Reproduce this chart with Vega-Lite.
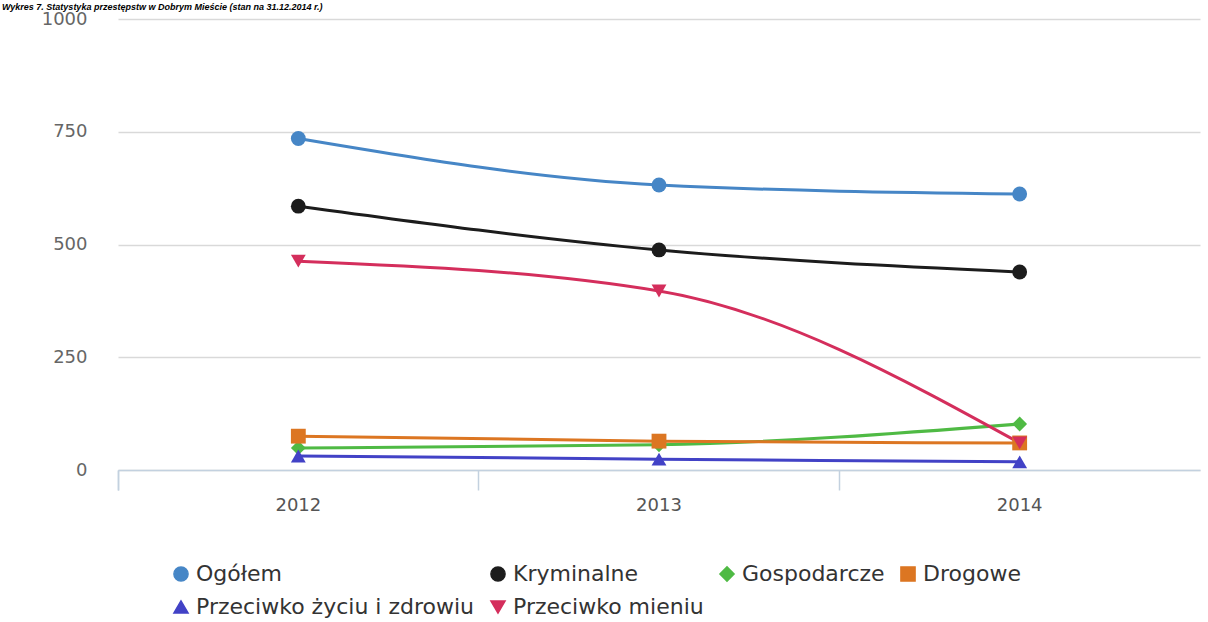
{
  "$schema": "https://vega.github.io/schema/vega-lite/v6.json",
  "autosize": "none",
  "padding": {"left": 118, "top": 19, "right": 8, "bottom": 152},
  "width": 1082,
  "height": 451,
  "background": "white",
  "title": {
    "text": "Wykres 7. Statystyka przestępstw w Dobrym Mieście (stan na 31.12.2014 r.)",
    "anchor": "start",
    "frame": "group",
    "dx": -116,
    "dy": 13,
    "offset": 4,
    "baseline": "alphabetic",
    "font": "Liberation Sans",
    "fontSize": 9,
    "fontStyle": "italic",
    "fontWeight": "bold",
    "color": "#000"
  },
  "data": {
    "values": [
      {"rok": "2012", "kategoria": "Ogółem", "liczba": 735},
      {"rok": "2013", "kategoria": "Ogółem", "liczba": 632},
      {"rok": "2014", "kategoria": "Ogółem", "liczba": 612},
      {"rok": "2012", "kategoria": "Kryminalne", "liczba": 585},
      {"rok": "2013", "kategoria": "Kryminalne", "liczba": 488},
      {"rok": "2014", "kategoria": "Kryminalne", "liczba": 439},
      {"rok": "2012", "kategoria": "Gospodarcze", "liczba": 49},
      {"rok": "2013", "kategoria": "Gospodarcze", "liczba": 56},
      {"rok": "2014", "kategoria": "Gospodarcze", "liczba": 102},
      {"rok": "2012", "kategoria": "Drogowe", "liczba": 75},
      {"rok": "2013", "kategoria": "Drogowe", "liczba": 64},
      {"rok": "2014", "kategoria": "Drogowe", "liczba": 60},
      {"rok": "2012", "kategoria": "Przeciwko życiu i zdrowiu", "liczba": 31},
      {"rok": "2013", "kategoria": "Przeciwko życiu i zdrowiu", "liczba": 24},
      {"rok": "2014", "kategoria": "Przeciwko życiu i zdrowiu", "liczba": 18},
      {"rok": "2012", "kategoria": "Przeciwko mieniu", "liczba": 463},
      {"rok": "2013", "kategoria": "Przeciwko mieniu", "liczba": 397},
      {"rok": "2014", "kategoria": "Przeciwko mieniu", "liczba": 60}
    ]
  },
  "encoding": {
    "x": {
      "field": "rok",
      "type": "ordinal",
      "title": null,
      "scale": {"type": "band", "paddingInner": 0, "paddingOuter": 0},
      "axis": {
        "labelAngle": 0,
        "labelFont": "DejaVu Sans",
        "labelFontSize": 18,
        "labelColor": "#555555",
        "labelPadding": 6,
        "domainColor": "#c3d1df",
        "domainWidth": 1.5,
        "tickColor": "#c3d1df",
        "tickWidth": 1.5,
        "tickSize": 20,
        "bandPosition": 0,
        "tickExtra": true,
        "grid": false
      }
    },
    "y": {
      "field": "liczba",
      "type": "quantitative",
      "title": null,
      "scale": {"domain": [0, 1000], "nice": false},
      "axis": {
        "values": [0, 250, 500, 750, 1000],
        "format": "d",
        "labelFont": "DejaVu Sans",
        "labelFontSize": 18,
        "labelColor": "#666666",
        "labelPadding": 31,
        "ticks": false,
        "domain": false,
        "gridColor": "#d9d9d9",
        "gridWidth": 1.5
      }
    },
    "color": {
      "field": "kategoria",
      "type": "nominal",
      "title": null,
      "legend": {"orient": "none", "legendX": 52, "legendY": 544, "direction": "horizontal", "columns": 4, "symbolSize": 200},
      "scale": {
        "domain": ["Ogółem", "Kryminalne", "Gospodarcze", "Drogowe", "Przeciwko życiu i zdrowiu", "Przeciwko mieniu"],
        "range": ["#4686c6", "#1c1c1c", "#4fba44", "#dc7622", "#4242c6", "#d42e5c"]
      }
    }
  },
  "layer": [
    {
      "mark": {"type": "line", "interpolate": "monotone", "strokeWidth": 3}
    },
    {
      "mark": {"type": "point", "filled": true, "opacity": 1, "size": 220},
      "encoding": {
        "shape": {
          "field": "kategoria",
          "type": "nominal",
          "title": null,
          "legend": {"orient": "none", "legendX": 52, "legendY": 544, "direction": "horizontal", "columns": 4, "symbolSize": 200},
          "scale": {
            "domain": ["Ogółem", "Kryminalne", "Gospodarcze", "Drogowe", "Przeciwko życiu i zdrowiu", "Przeciwko mieniu"],
            "range": ["circle", "circle", "diamond", "square", "triangle-up", "triangle-down"]
          }
        }
      }
    }
  ],
  "config": {
    "view": {"stroke": null},
    "legend": {
      "labelFont": "DejaVu Sans",
      "labelFontSize": 22,
      "labelColor": "#333333",
      "labelLimit": 400,
      "columnPadding": 12,
      "rowPadding": 11
    }
  }
}
